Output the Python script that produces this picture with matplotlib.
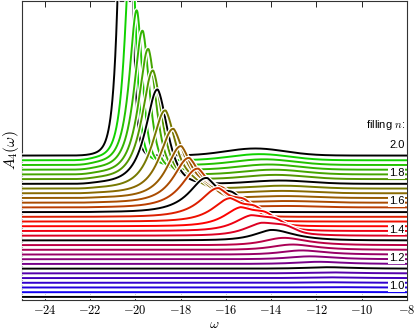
import numpy as np
import matplotlib
import matplotlib.pyplot as plt
import matplotlib.patheffects as pe
import matplotlib.transforms as mtransforms
from matplotlib.colors import LinearSegmentedColormap

plt.rcParams['mathtext.fontset'] = 'cm'
plt.rcParams['font.family'] = ['Liberation Sans', 'DejaVu Sans']

# curve index k = 0..30, filling n = 1 + k/30
n_curves = 31
filling = 1.0 + np.arange(n_curves) / 30.0

# main peak position / height (offset units), n = 1.0 -> 2.0
peak_w = [-11.5, -11.5, -11.5, -11.5, -11.5, -11.5,
          -11.6, -12.0, -12.4, -12.8, -13.2, -13.6,
          -14.05, -14.45, -14.9, -15.35, -15.8, -16.3,
          -16.8, -17.2, -17.6, -17.95, -18.3, -18.65,
          -19.0, -19.2, -19.4, -19.65, -19.9, -20.15, -20.35]
peak_h = [0.0, 0.05, 0.08, 0.1, 0.15, 0.2,
          0.3, 0.45, 0.6, 0.85, 1.1, 1.5,
          1.9, 2.3, 2.8, 3.4, 4.2, 5.2,
          6.1, 7.0, 8.2, 9.5, 12.1, 14.8,
          18.2, 21.1, 24.5, 27.3, 30.4, 45.0, 130.0]
width_left = [0.8, 0.8, 0.8, 0.8, 0.8, 0.8,
              0.8, 0.8, 0.75, 0.7, 0.7, 0.65,
              0.6, 0.6, 0.6, 0.6, 0.65, 0.7,
              0.7, 0.65, 0.6, 0.56, 0.52, 0.5,
              0.46, 0.42, 0.38, 0.34, 0.3, 0.25, 0.21]
width_right = [1.0, 1.0, 1.0, 1.0, 1.0, 1.0,
               1.0, 1.0, 1.0, 1.0, 1.0, 1.0,
               0.95, 0.85, 0.75, 0.65, 0.55, 0.5,
               0.45, 0.45, 0.45, 0.42, 0.42, 0.4,
               0.39, 0.35, 0.3, 0.26, 0.21, 0.17, 0.13]
# slow rise between band edge and main peak
tail_h = [0, 0, 0, 0, 0, 0,
          0, 0, 0, 0, 0, 0,
          0.3, 0.4, 0.5, 0.6, 0.7, 0.8,
          1.0, 1.1, 1.2, 1.4, 1.5, 1.7,
          1.8, 1.9, 2.0, 2.0, 2.0, 1.8, 1.0]
# shoulder ~1.1 above the main peak
shoulder_h = [0, 0, 0, 0, 0, 0,
              0, 0, 0, 0, 0, 0,
              0, 0.9, 1.3, 1.7, 2.1, 2.6,
              3.1, 2.8, 2.4, 2.0, 1.6, 1.1,
              0, 0, 0, 0, 0, 0, 0]
# broad hump at higher omega
hump_w = [-13.0] * 19 + [-13.3, -13.3, -13.4, -13.5, -13.5,
                         -13.6, -13.8, -13.9, -14.1, -14.3, -14.5, -14.7]
hump_h = [0.0] * 19 + [0.3, 0.35, 0.4, 0.5, 0.6,
                       0.7, 0.9, 1.0, 1.1, 1.2, 1.3, 1.5]

label_vals = ['1.0', '1.2', '1.4', '1.6', '1.8', '2.0']
label_k = [0, 6, 12, 18, 24, 30]

omega = np.linspace(-25, -8, 2000)


def spectrum(w, k):
    d = w - peak_w[k]
    a = np.clip(-d / width_left[k], -60, 60)
    b = np.clip(d / width_right[k], -60, 60)
    main = peak_h[k] / (0.5 * (np.exp(a) + np.exp(b)))
    tail = tail_h[k] * np.where(d < 0, np.exp(np.minimum(d, 0) / 1.6),
                                np.exp(-np.maximum(d, 0) / width_right[k]))
    sh = shoulder_h[k] * np.exp(-0.5 * ((w - peak_w[k] - 1.1) / 0.42) ** 2)
    hump = hump_h[k] * np.exp(-0.5 * ((w - hump_w[k]) / 1.3) ** 2)
    edge = 1.0 / (1.0 + np.exp(-(w + 22.1) / 0.22))
    return (main + tail + sh + hump) * edge


cmap = LinearSegmentedColormap.from_list('fill', [(0, 0, 1), (1, 0, 0), (0, 0.88, 0)])

fig = plt.figure(figsize=(4.15, 3.31), dpi=100)
ax = fig.add_axes([0.053, 0.094, 0.928, 0.903])

halo = [pe.Stroke(linewidth=3.2, foreground='white'), pe.Normal()]
for k in range(n_curves - 1, -1, -1):
    col = 'black' if k % 6 == 0 else cmap(filling[k] - 1.0)
    ax.plot(omega, k + spectrum(omega, k), color=col, lw=1.4,
            path_effects=halo, zorder=10 + (n_curves - k))

trans = mtransforms.blended_transform_factory(ax.transAxes, ax.transData)
for lab, k in zip(label_vals, label_k):
    ax.text(0.993, k + 2.3, lab, transform=trans, ha='right', va='center',
            fontsize=8, zorder=100,
            bbox=dict(fc='white', ec='none', pad=0.6))
ax.text(0.995, 36.4, 'filling $n$:', transform=trans, ha='right', va='center',
        fontsize=8, zorder=100)

ax.set_xlim(-25, -8)
ax.set_ylim(-0.63, 62.8)
ax.set_xticks(np.arange(-24, -7, 2))
ax.set_xticklabels(['$%d$' % v for v in np.arange(-24, -7, 2)], fontsize=9)
ax.set_yticks([])
ax.tick_params(axis='x', direction='in', top=True, length=4, width=0.6, pad=3)
for s in ax.spines.values():
    s.set_linewidth(0.8)
    s.set_color('#333333')
ax.set_xlabel(r'$\omega$', fontsize=10, labelpad=0)
ax.set_ylabel(r'$A_4(\omega)$', fontsize=11, labelpad=1)

fig.savefig('out.png', dpi=100)
